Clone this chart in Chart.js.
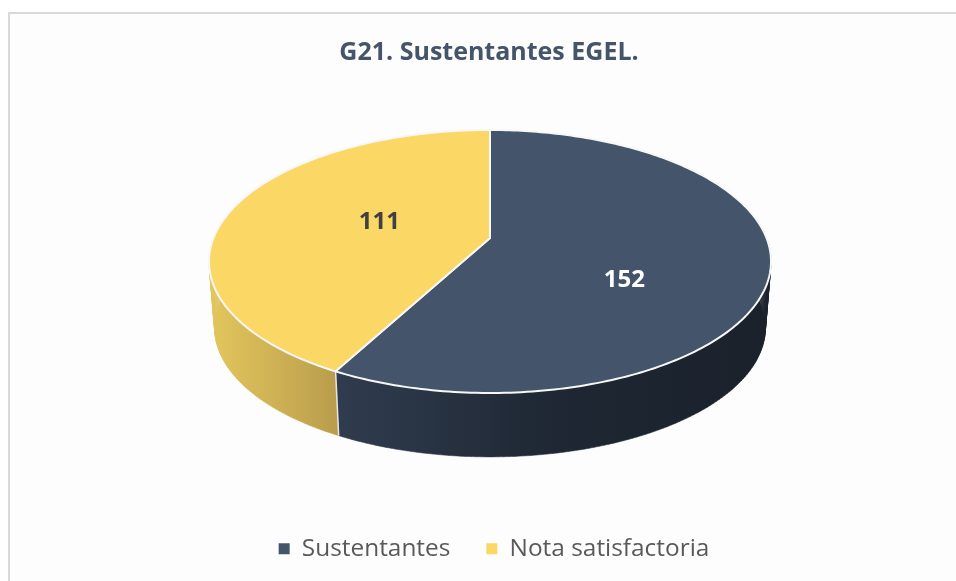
<!DOCTYPE html>
<html>
<head>
<meta charset="utf-8">
<title>G21. Sustentantes EGEL.</title>
<script src="https://cdn.jsdelivr.net/npm/chart.js@4"></script>
<style>
    html, body { margin: 0; padding: 0; background: #ffffff; }
    #chart-box { position: relative; width: 956px; height: 581px; }
</style>
</head>
<body>
<div id="chart-box"><canvas id="egel-pie"></canvas></div>
<script>
const categories = ["Sustentantes", "Nota satisfactoria"];
const values = [152, 111];
const sliceColors = ["#44546a", "#fbd765"];
const labelColors = ["#ffffff", "#404040"];

// radial position of each value label on the top face, plus a nudge in px
const labelRadius = [0.49, 0.42];
const labelNudge = [27, -3];

// wall shading, left to right
const wallStops = [
    ["#303c4f", "#1e2733", "#1a212b"],
    ["#e2c65c", "#cfb255", "#b99c4c"],
];

// the pie is seen in perspective: a unit circle maps to the tilted disc
const view = { cx: 490, cy: 238, a: 276.5, b: 127.3, k: -0.1787, depth: 67, baseScale: 0.98 };

function project(theta, rho, scale, drop) {
    const u = Math.sin(theta) * rho;
    const v = -Math.cos(theta) * rho;
    const w = 1 + view.k * v;
    return [view.cx + (view.a * scale * u) / w, view.cy + drop + (view.b * scale * v) / w];
}

function rimPoints(from, to, scale, drop) {
    const pts = [];
    const steps = Math.max(2, Math.ceil(Math.abs(to - from) * 60));
    for (let i = 0; i <= steps; i++) {
        pts.push(project(from + ((to - from) * i) / steps, 1, scale, drop));
    }
    return pts;
}

const framePlugin = {
    id: "frame",
    beforeDraw(chart) {
        const ctx = chart.ctx;
        ctx.save();
        ctx.fillStyle = "#fdfdfd";
        ctx.fillRect(8, 12, 948, 569);
        ctx.strokeStyle = "#d9d9d9";
        ctx.lineWidth = 2;
        ctx.beginPath();
        ctx.moveTo(9, 581);
        ctx.lineTo(9, 13);
        ctx.lineTo(956, 13);
        ctx.stroke();
        ctx.restore();
    },
    // the legend sits a little right of the title in the original
    afterLayout(chart) {
        chart.legend.left += 5;
        chart.legend.right += 5;
    },
};

// takes the arc angles chart.js computed and draws them as a 3d disc
const tiltedPiePlugin = {
    id: "tiltedPie",
    beforeDatasetDraw() {
        return false;
    },
    afterDatasetsDraw(chart) {
        const ctx = chart.ctx;
        const arcs = chart.getDatasetMeta(0).data;
        const wallFrom = (70 * Math.PI) / 180;
        const wallTo = (290 * Math.PI) / 180;
        ctx.save();

        arcs.forEach((arc, i) => {
            const start = Math.max(arc.startAngle + Math.PI / 2, wallFrom);
            const end = Math.min(arc.endAngle + Math.PI / 2, wallTo);
            if (end <= start) return;
            const top = rimPoints(start, end, 1, 0);
            const base = rimPoints(start, end, view.baseScale, view.depth);
            const xs = top.concat(base).map((p) => p[0]);
            const grad = ctx.createLinearGradient(Math.min(...xs), 0, Math.max(...xs), 0);
            wallStops[i].forEach((c, n) => grad.addColorStop(n / (wallStops[i].length - 1), c));
            // one quad per step, so the side silhouette comes out straight
            ctx.beginPath();
            for (let n = 0; n < top.length - 1; n++) {
                ctx.moveTo(top[n][0], top[n][1]);
                ctx.lineTo(top[n + 1][0], top[n + 1][1]);
                ctx.lineTo(base[n + 1][0], base[n + 1][1]);
                ctx.lineTo(base[n][0], base[n][1]);
                ctx.closePath();
            }
            ctx.fillStyle = grad;
            ctx.fill();
            ctx.strokeStyle = grad;
            ctx.lineWidth = 0.5;
            ctx.stroke();
        });

        // divider on the front wall
        arcs.forEach((arc) => {
            const theta = arc.startAngle + Math.PI / 2;
            if (theta < wallFrom || theta > wallTo) return;
            const p = project(theta, 1, 1, 0);
            const q = project(theta, 1, view.baseScale, view.depth);
            ctx.beginPath();
            ctx.moveTo(p[0], p[1]);
            ctx.lineTo(q[0], q[1]);
            ctx.strokeStyle = "#e6e6e6";
            ctx.lineWidth = 1.5;
            ctx.stroke();
        });

        arcs.forEach((arc, i) => {
            const start = arc.startAngle + Math.PI / 2;
            const end = arc.endAngle + Math.PI / 2;
            ctx.beginPath();
            ctx.moveTo(view.cx, view.cy);
            rimPoints(start, end, 1, 0).forEach((p) => ctx.lineTo(p[0], p[1]));
            ctx.closePath();
            ctx.fillStyle = sliceColors[i];
            ctx.fill();
            ctx.strokeStyle = "#f7f7f7";
            ctx.lineWidth = 2;
            ctx.lineJoin = "round";
            ctx.stroke();
        });

        ctx.font = "bold 24px 'Open Sans'";
        ctx.textAlign = "center";
        ctx.textBaseline = "middle";
        arcs.forEach((arc, i) => {
            const mid = (arc.startAngle + arc.endAngle) / 2 + Math.PI / 2;
            const p = project(mid, labelRadius[i], 1, labelNudge[i]);
            ctx.fillStyle = labelColors[i];
            ctx.fillText(String(values[i]), p[0], p[1]);
        });
        ctx.restore();
    },
};

document.addEventListener("DOMContentLoaded", () => {
    const ctx = document.getElementById("egel-pie").getContext("2d");
    new Chart(ctx, {
        type: "pie",
        data: {
            labels: categories,
            datasets: [
                {
                    data: values,
                    backgroundColor: sliceColors,
                    borderWidth: 0,
                },
            ],
        },
        options: {
            responsive: true,
            maintainAspectRatio: false,
            animation: false,
            layout: {
                padding: { top: 38, bottom: 10, left: 22 },
            },
            plugins: {
                title: {
                    display: true,
                    text: "G21. Sustentantes EGEL.",
                    color: "#44546a",
                    font: { family: "'Open Sans'", size: 25, weight: "bold" },
                    padding: { top: 0, bottom: 10 },
                },
                legend: {
                    position: "bottom",
                    labels: {
                        boxWidth: 11,
                        boxHeight: 11,
                        padding: 36,
                        color: "#595959",
                        font: { family: "'Open Sans'", size: 24.4 },
                    },
                },
                tooltip: { enabled: false },
            },
        },
        plugins: [framePlugin, tiltedPiePlugin],
    });
});
</script>
</body>
</html>
